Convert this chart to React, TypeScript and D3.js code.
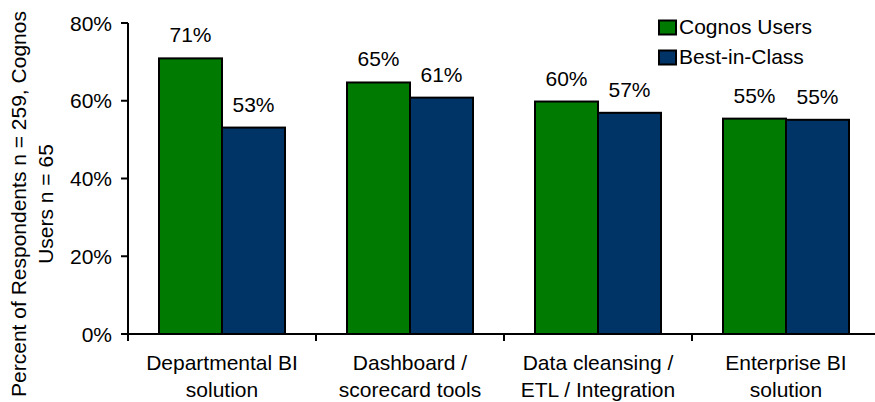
import React from "react";
import * as d3 from "d3";

const categories = [
  ["Departmental BI", "solution"],
  ["Dashboard /", "scorecard tools"],
  ["Data cleansing /", "ETL / Integration"],
  ["Enterprise BI", "solution"],
];
const seriesNames = ["Cognos Users", "Best-in-Class"];
const cognosUsers = [70.9, 64.7, 59.8, 55.4];
const bestInClass = [53.1, 60.8, 56.9, 55.1];
const yTicks = [0, 20, 40, 60, 80];
const colors = ["#007a00", "#003366"];

const W = 875;
const H = 402;
const FONT = "'Liberation Sans', Arial, sans-serif";
const FS = 21;

export default function App() {
  const y = d3.scaleLinear().domain([0, 80]).range([334, 23]);
  const keys = categories.map((c) => c.join(" "));
  const x0 = d3.scaleBand().domain(keys).range([128, 880]).paddingInner(0).paddingOuter(0);
  const x1 = d3
    .scaleBand()
    .domain(seriesNames)
    .range([0, x0.bandwidth()])
    .paddingInner(0)
    .paddingOuter(31 / 63);
  const data = [cognosUsers, bestInClass];

  return (
    <svg width={W} height={H} style={{ position: "absolute", left: 0, top: 0, fontFamily: FONT }}>
      <rect x={0} y={0} width={W} height={H} fill="#fff" />
      {keys.map((k, i) => (
        <g key={k} transform={`translate(${x0(k)},0)`}>
          {seriesNames.map((s, j) => {
            const v = data[j][i];
            const bx = x1(s)!;
            return (
              <g key={s}>
                <rect
                  x={bx}
                  y={y(v)}
                  width={x1.bandwidth()}
                  height={y(0) - y(v)}
                  fill={colors[j]}
                  stroke="#000"
                  strokeWidth={2}
                />
                <text
                  x={bx + x1.bandwidth() / 2}
                  y={y(v) - 16}
                  textAnchor="middle"
                  fontSize={FS}
                  fill="#000"
                >
                  {Math.round(v)}%
                </text>
              </g>
            );
          })}
        </g>
      ))}
      <line x1={128} x2={128} y1={y(80)} y2={341} stroke="#000" strokeWidth={2} />
      {yTicks.map((t) => (
        <g key={t}>
          <line x1={121} x2={128} y1={y(t)} y2={y(t)} stroke="#000" strokeWidth={2} />
          <text x={112} y={y(t)} dy="0.36em" textAnchor="end" fontSize={FS} fill="#000">
            {t}%
          </text>
        </g>
      ))}
      <line x1={128} x2={W} y1={y(0)} y2={y(0)} stroke="#000" strokeWidth={2} />
      {keys.map((k) => (
        <line key={k} x1={x0(k)!} x2={x0(k)!} y1={y(0)} y2={341} stroke="#000" strokeWidth={2} />
      ))}
      {categories.map((c, i) => (
        <text key={i} textAnchor="middle" fontSize={FS} fill="#000">
          {c.map((line, li) => (
            <tspan key={li} x={x0(keys[i])! + x0.bandwidth() / 2} y={370 + li * 26.5}>
              {line}
            </tspan>
          ))}
        </text>
      ))}
      <g transform="translate(0,204) rotate(-90)">
        <text textAnchor="middle" fontSize={FS} fill="#000">
          <tspan x={0} y={26}>Percent of Respondents n = 259, Cognos</tspan>
          <tspan x={0} y={52.5}>Users n = 65</tspan>
        </text>
      </g>
      {seriesNames.map((s, j) => (
        <g key={s}>
          <rect x={659} y={20.5 + j * 30} width={17} height={14} fill={colors[j]} stroke="#000" strokeWidth={2} />
          <text x={679} y={34.3 + j * 30} fontSize={FS} fill="#000">
            {s}
          </text>
        </g>
      ))}
    </svg>
  );
}
